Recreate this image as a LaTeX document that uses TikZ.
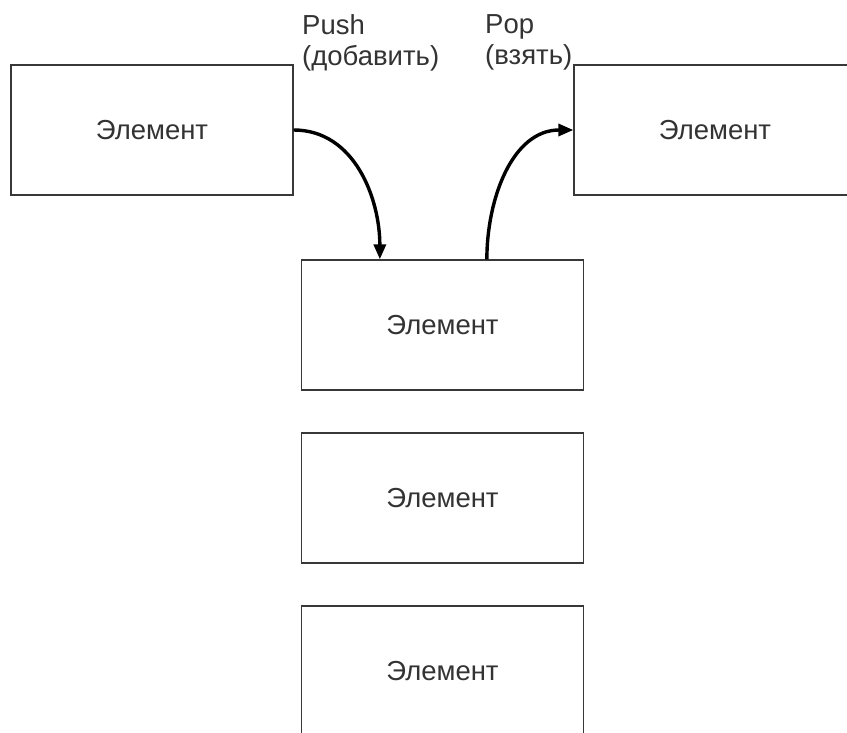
\documentclass[tikz,border=0pt]{standalone}
\usepackage{fontspec}
\setmainfont{Liberation Sans}
\usetikzlibrary{arrows.meta,calc}
\definecolor{txt}{HTML}{333333}
\definecolor{edge}{HTML}{383838}
\begin{document}
\begin{tikzpicture}[x=1pt,y=-1pt,
  elem/.style={draw=edge,line width=1.3pt,fill=white,rectangle,minimum width=282pt,minimum height=130pt,inner sep=0pt,text=txt,font=\fontsize{27.5}{31}\selectfont},
  lbl/.style={anchor=north west,inner sep=0pt,align=left,text=txt,font=\fontsize{27.5}{31}\selectfont},
  conn/.style={line width=3.4pt,black,-{Triangle[length=15pt,width=12pt]}}]
\useasboundingbox (0,0) rectangle (847,733);
\clip (0,0) rectangle (847,733);
\node[elem] (left) at (152,130) {Элемент};
\node[elem] (right) at (715,130) {Элемент};
\node[elem] (m1) at (442.5,325) {Элемент};
\node[elem] (m2) at (442.5,498) {Элемент};
\node[elem] (m3) at (442.5,671) {Элемент};
\node[lbl] (push) at (302,14.5) {Push\\(добавить)};
\node[lbl] (pop) at (485,14.5) {Pop\\(взять)};
\coordinate (in1) at ($(m1.north west)+(79,0)$);
\coordinate (out1) at ($(m1.north west)+(186,0)$);
\draw[conn] (left.east) to[out=0,in=90] (in1);
\draw[conn] (out1) to[out=90,in=180] (right.west);
\end{tikzpicture}
\end{document}
